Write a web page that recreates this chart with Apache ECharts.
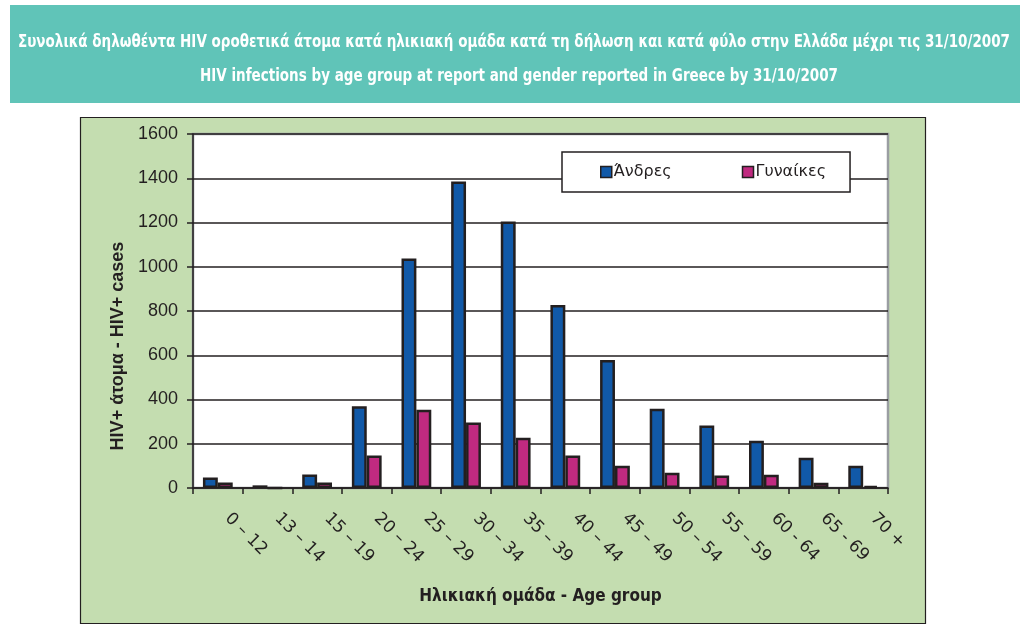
<!DOCTYPE html>
<html>
<head>
<meta charset="utf-8">
<script src="https://cdn.jsdelivr.net/npm/echarts@6/dist/echarts.min.js"></script>
<style>html,body{margin:0;padding:0;background:#fff;}#c{width:1025px;height:638px;}</style>
</head>
<body>
<div id="c"></div>
<script>
const categories = ['0 – 12','13 – 14','15 – 19','20 – 24','25 – 29','30 – 34','35 – 39','40 – 44','45 – 49','50 – 54','55 – 59','60 - 64','65 - 69','70 +'];
const menValues = [48, 12, 61, 369, 1037, 1385, 1205, 827, 578, 358, 283, 214, 137, 101];
const womenValues = [25, 0, 25, 147, 354, 296, 227, 147, 101, 69, 56, 60, 24, 10];
const yTicks = [0, 200, 400, 600, 800, 1000, 1200, 1400, 1600];
const seriesNames = ['Άνδρες', 'Γυναίκες'];
const titleGr = 'Συνολικά δηλωθέντα HIV οροθετικά άτομα κατά ηλικιακή ομάδα κατά τη δήλωση και κατά φύλο στην Ελλάδα μέχρι τις 31/10/2007';
const titleEn = 'HIV infections by age group at report and gender reported in Greece by 31/10/2007';
const yName = 'HIV+ άτομα - HIV+ cases';
const xName = 'Ηλικιακή ομάδα - Age group';

const chart = echarts.init(document.getElementById('c'), null, {renderer: 'canvas'});
const dark = '#231F20';
const titleFontSpec = 'bold 18px "DejaVu Sans Condensed", "DejaVu Sans", sans-serif';
const mctx = document.createElement('canvas').getContext('2d');
mctx.font = titleFontSpec;
function fitScale(t, w) { return w / mctx.measureText(t).width; }

chart.setOption({
  animation: false,
  backgroundColor: '#fff',
  graphic: [
    {type: 'rect', z: -10, shape: {x: 10, y: 5, width: 1010, height: 98}, style: {fill: '#60C4B8'}},
    {type: 'text', z: -9, x: 514, y: 42, scaleX: fitScale(titleGr, 992),
     style: {text: titleGr, fill: '#fff', font: titleFontSpec, textAlign: 'center', textVerticalAlign: 'middle'}},
    {type: 'text', z: -9, x: 519, y: 76, scaleX: fitScale(titleEn, 638),
     style: {text: titleEn, fill: '#fff', font: titleFontSpec, textAlign: 'center', textVerticalAlign: 'middle'}},
    {type: 'rect', z: -10, shape: {x: 80.5, y: 117.5, width: 845, height: 506}, style: {fill: '#C4DDB0', stroke: dark, lineWidth: 1.2}}
  ],
  legend: {
    data: seriesNames,
    left: 562, top: 152,
    padding: [12, 24, 12, 38],
    backgroundColor: '#fff', borderColor: dark, borderWidth: 1.5,
    itemGap: 70, itemWidth: 11, itemHeight: 11,
    icon: 'rect',
    textStyle: {fontSize: 16, color: dark, fontFamily: '"DejaVu Sans", sans-serif', padding: [0, 0, 0, -3]},
    itemStyle: {borderColor: dark, borderWidth: 1.5}
  },
  grid: {left: 193, top: 134, right: 137, bottom: 150, show: true, backgroundColor: '#fff', borderColor: '#9a9ea2', borderWidth: 2.5},
  xAxis: {
    type: 'category', data: categories,
    axisLine: {lineStyle: {color: dark, width: 1.5}},
    axisTick: {show: true, length: 6, lineStyle: {color: dark, width: 1.5}},
    axisLabel: {rotate: -45, margin: 18, fontSize: 17, color: dark, fontFamily: '"DejaVu Sans", sans-serif', interval: 0, padding: [0, 0, 0, 14]},
    name: xName, nameLocation: 'middle', nameGap: 100,
    nameTextStyle: {fontSize: 17, fontWeight: 'bold', color: dark, fontFamily: '"DejaVu Sans Condensed", "DejaVu Sans", sans-serif'}
  },
  yAxis: {
    type: 'value', min: yTicks[0], max: yTicks[yTicks.length - 1], interval: yTicks[1] - yTicks[0],
    axisLine: {show: true, lineStyle: {color: dark, width: 1.5}},
    axisTick: {show: true, length: 6, lineStyle: {color: dark, width: 1.5}},
    axisLabel: {fontSize: 18, color: dark, margin: 15, fontFamily: '"Liberation Sans", Arial, sans-serif', formatter: v => String(v)},
    splitLine: {lineStyle: {color: dark, width: 1.5}},
    name: yName, nameLocation: 'middle', nameGap: 66, nameRotate: 90,
    nameTextStyle: {fontSize: 18, fontWeight: 'bold', color: dark, fontFamily: '"Liberation Sans", Arial, sans-serif', padding: [0, 70, 0, 0]}
  },
  series: [
    {name: seriesNames[0], type: 'bar', data: menValues, barGap: '0%', barCategoryGap: '40%',
     itemStyle: {color: '#1159A8', borderColor: dark, borderWidth: 2.5}},
    {name: seriesNames[1], type: 'bar', data: womenValues, barGap: '0%', barCategoryGap: '40%',
     itemStyle: {color: '#C02A80', borderColor: dark, borderWidth: 2.5}}
  ]
});
</script>
</body>
</html>
